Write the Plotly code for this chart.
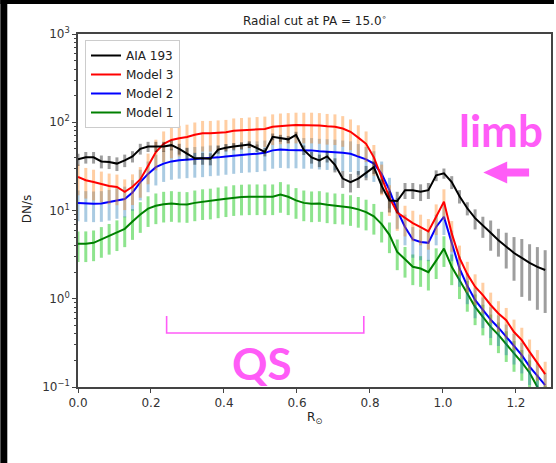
import numpy as np
import plotly.graph_objects as go

# Radial positions (solar radii) of the 61 samples along the cut
r_sun = np.linspace(0.0, 1.28, 61)

aia_193 = [38, 40, 40, 36, 35.5, 34, 37, 41, 50, 53,
           53, 53, 55, 50, 44, 39, 39, 38.5, 49, 51.5,
           53, 54, 56, 51, 46, 68.5, 66, 64, 72, 48.5,
           40, 37, 41, 33, 23, 21, 23, 27, 31, 19,
           13, 12.8, 17, 17, 16.3, 17, 25, 26.4, 21, 14.5,
           10.6, 8.2, 6.7, 5.6, 4.6, 3.9, 3.3, 2.9, 2.55, 2.3,
           2.12]
aia_193_err = [6, 6, 6, 6, 6, 6, 6, 6, 7, 7,
               7, 7, 7, 7, 7, 6, 6, 6, 5, 5,
               5, 5, 5, 5, 5, 6, 6, 6, 6, 6,
               6, 6, 6, 6, 5, 5, 5, 5, 5, 3.5,
               3.5, 3.5, 3.5, 3.5, 3.5, 3.5, 3.5, 3.5, 3.5, 2.5,
               1.8, 2.1, 1.8, 2.1, 1.6, 1.7, 1.7, 1.85, 1.6, 1.55,
               1.43]

model_3 = [24, 22, 21, 20, 19, 18.5, 16.3, 18.6, 22.5, 32,
           46, 57, 63, 66, 68, 72, 75, 75, 76, 77,
           80, 81, 82, 83, 84, 89, 91, 92, 93, 93,
           93, 92, 90, 89, 85, 78, 67, 57, 40, 24,
           14, 9.5, 8.2, 7.2, 6.5, 5.8, 8.5, 12.6, 5.5, 2.9,
           1.9, 1.37, 1.1, 0.85, 0.68, 0.57, 0.42, 0.34, 0.25, 0.19,
           0.14]
model_2 = [12.2, 12, 11.9, 12, 12.4, 13, 13.5, 16, 21, 26,
           31, 34, 36, 37, 37.5, 38, 38.5, 39.5, 40, 41,
           42, 43, 43.5, 44, 45, 48, 49, 48.5, 48.5, 48,
           48, 47, 46.5, 46, 45, 44, 41, 38, 34, 26,
           17, 10, 6.5, 4.7, 4.4, 4.3, 6.5, 8.5, 4.3, 2.2,
           1.4, 0.97, 0.75, 0.58, 0.47, 0.37, 0.29, 0.23, 0.17, 0.135,
           0.105]
model_1 = [4.2, 4.2, 4.3, 4.7, 5.1, 5.6, 6.2, 7.5, 9.0, 10.5,
           11.3, 11.8, 12, 11.8, 11.7, 12.2, 12.6, 12.8, 13.2, 13.6,
           14, 14.2, 14.3, 14.3, 14.3, 14.3, 15.2, 14.3, 13, 12.2,
           11.9, 12, 11.6, 11.3, 11.2, 10.8, 10.3, 9.6, 8.6, 7.0,
           5.3, 3.4, 2.8, 2.3, 2.2, 2.0, 2.7, 3.7, 2.3, 1.6,
           1.15, 0.81, 0.62, 0.48, 0.39, 0.31, 0.24, 0.19, 0.145, 0.1,
           0.075]
# fractional uncertainty on the model intensities
model_rel_err = 0.38

y_tickvals = [0.1, 1, 10, 100, 1000]
y_ticktext = ["10<sup>−1</sup>", "10<sup>0</sup>", "10<sup>1</sup>",
              "10<sup>2</sup>", "10<sup>3</sup>"]

W, H = 556, 463
L, R, T, B = 78, 3, 34, 76
PW, PH = W - L - R, H - T - B


def px(xp):
    return (xp - L) / PW


def py(yp):
    return (H - B - yp) / PH


fig = go.Figure()

series = [
    ("Model 1", model_1, None, "#008000", "rgba(50,205,50,0.55)"),
    ("Model 2", model_2, None, "#0000ff", "rgba(31,119,180,0.38)"),
    ("Model 3", model_3, None, "#ff0000", "rgba(255,127,14,0.38)"),
    ("AIA 193", aia_193, aia_193_err, "#000000", "rgba(0,0,0,0.38)"),
]
for name, vals, err, col, ecol in series:
    vals = np.asarray(vals, dtype=float)
    e = np.asarray(err, dtype=float) if err is not None else model_rel_err * vals
    fig.add_trace(go.Scatter(
        x=r_sun, y=vals, mode="lines", name=name,
        line=dict(color=col, width=2),
        error_y=dict(type="data", array=e, symmetric=True,
                     color=ecol, thickness=3, width=0),
    ))

axis_common = dict(
    showline=True, linecolor="#444", linewidth=1.5, mirror=True,
    ticks="outside", ticklen=4, tickwidth=1.2, tickcolor="#444",
    showgrid=False, zeroline=False,
    tickfont=dict(family="DejaVu Sans", size=12, color="#333"),
)
fig.update_xaxes(range=[0, 1.296], tick0=0, dtick=0.2, tickformat=".1f",
                 **axis_common)
fig.update_yaxes(type="log", range=[-1, 3], tickmode="array",
                 tickvals=y_tickvals, ticktext=y_ticktext,
                 minor=dict(ticks="outside", ticklen=2, tickcolor="#444",
                            dtick="D1", showgrid=False),
                 **axis_common)

magenta = "#ff5cf7"
shapes = [
    # left and top black strips
    dict(type="rect", xref="paper", yref="paper", x0=px(0), x1=px(7),
         y0=py(H), y1=py(0), fillcolor="black", line_width=0, layer="above"),
    dict(type="rect", xref="paper", yref="paper", x0=px(0), x1=px(W),
         y0=py(4), y1=py(0), fillcolor="black", line_width=0, layer="above"),
    # QS bracket
    dict(type="path", xref="paper", yref="paper",
         path=f"M {px(167)} {py(316)} L {px(167)} {py(333)} "
              f"L {px(365)} {py(333)} L {px(365)} {py(316)}",
         line=dict(color=magenta, width=1.6)),
    # arrow pointing at the limb
    dict(type="path", xref="paper", yref="paper",
         path=f"M {px(485)} {py(172.5)} L {px(509)} {py(161.5)} "
              f"L {px(509)} {py(168.5)} L {px(531)} {py(168.5)} "
              f"L {px(531)} {py(176.5)} L {px(509)} {py(176.5)} "
              f"L {px(509)} {py(183.5)} Z",
         fillcolor=magenta, line_width=0),
]


def label(text, x, y, size, family="DejaVu Sans", color="#222", angle=0):
    return dict(text=text, x=px(x), y=py(y), xref="paper", yref="paper",
                xanchor="center", yanchor="middle", showarrow=False,
                textangle=angle, font=dict(family=family, size=size, color=color))


annotations = [
    label("Radial cut at PA = 15.0<sup>∘</sup>", 316, 20, 12),
    label("R<sub>⊙</sub>", 316, 418, 12),
    label("DN/s", 27, 209, 12, angle=-90),
    label("<b>limb</b>", 503, 130, 44, family="Lato", color=magenta),
    label("<b>QS</b>", 263, 363, 44, family="Lato", color=magenta),
]

fig.update_layout(
    width=W, height=H,
    margin=dict(l=L, r=R, t=T, b=B),
    paper_bgcolor="white", plot_bgcolor="white",
    shapes=shapes, annotations=annotations,
    showlegend=True,
    legend=dict(x=px(85), y=py(40), xanchor="left", yanchor="top",
                traceorder="reversed", bgcolor="rgba(255,255,255,0.85)",
                bordercolor="#cccccc", borderwidth=1,
                font=dict(family="DejaVu Sans", size=12, color="#222"),
                itemwidth=30, tracegroupgap=0),
)

fig.write_html("out.html", config={"displayModeBar": False})
